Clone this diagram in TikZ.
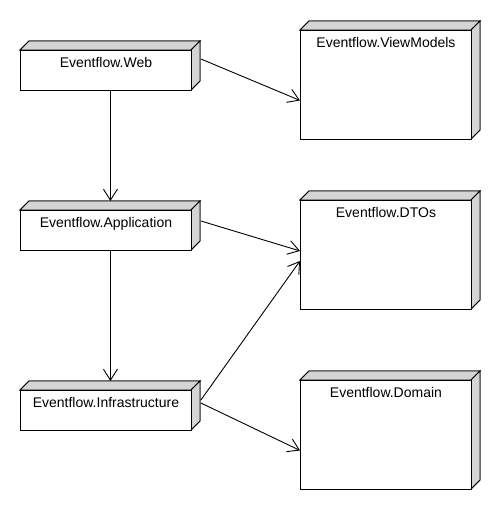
\documentclass[tikz,border=0pt]{standalone}
\usepackage{fontspec}
\setmainfont{Liberation Sans}
\usetikzlibrary{arrows.meta,calc}
\definecolor{facegray}{RGB}{212,212,212}
\tikzset{
  front/.style={draw=black, fill=white, line width=0.9pt, inner sep=0pt, anchor=north west},
  face/.style={draw=black, fill=facegray, line width=0.9pt, line join=miter},
  lbl/.style={inner sep=0pt, anchor=base, font=\fontsize{14}{16}\selectfont},
  dep/.style={draw=black, line width=0.9pt, -{Straight Barb[length=11pt,width=14pt,line width=0.9pt]}}
}
\newcommand{\umlbox}[6]{%
  \fill[face] (#2,#3) -- (#2+9,#3-9) -- (#4+9,#3-9) -- (#4,#3) -- cycle;
  \fill[face] (#4,#3) -- (#4+9,#3-9) -- (#4+9,#5-9) -- (#4,#5) -- cycle;
  \draw[face] (#2,#3) -- (#2+9,#3-9) -- (#4+9,#3-9) -- (#4,#3) -- cycle;
  \draw[face] (#4,#3) -- (#4+9,#3-9) -- (#4+9,#5-9) -- (#4,#5) -- cycle;
  \node[front, minimum width=#4-#2, minimum height=#5-#3] (#1) at (#2,#3) {};
  \node[lbl] (#1-t) at ($(#1.north)+(0,17.5)$) {#6};
}
\begin{document}
\begin{tikzpicture}[x=1pt,y=-1pt]
\useasboundingbox[fill=white] (0,0) rectangle (500,510);
\umlbox{web}{20}{50}{191}{90}{Eventflow.Web}
\umlbox{app}{20}{210}{191}{250}{Eventflow.Application}
\umlbox{inf}{20}{390}{191}{430}{Eventflow.Infrastructure}
\umlbox{vm}{300}{30}{471}{139}{Eventflow.ViewModels}
\umlbox{dto}{300}{200}{471}{309}{Eventflow.DTOs}
\umlbox{dom}{300}{380}{471}{489}{Eventflow.Domain}
\draw[dep] ($(web.north east)+(9,9)$) -- ($(vm.west)+(0,15.5)$);
\draw[dep] ($(web.south)+(4.5,0)$) -- ($(app.north)+(4.5,-9)$);
\draw[dep] ($(app.north east)+(9,11)$) -- ($(dto.west)+(0,-4)$);
\draw[dep] ($(app.south)+(4.5,0)$) -- ($(inf.north)+(4.5,-9)$);
\draw[dep] ($(inf.north east)+(9,10)$) -- ($(dto.west)+(0,6)$);
\draw[dep] ($(inf.north east)+(9,13)$) -- ($(dom.west)+(0,15.5)$);
\end{tikzpicture}
\end{document}
